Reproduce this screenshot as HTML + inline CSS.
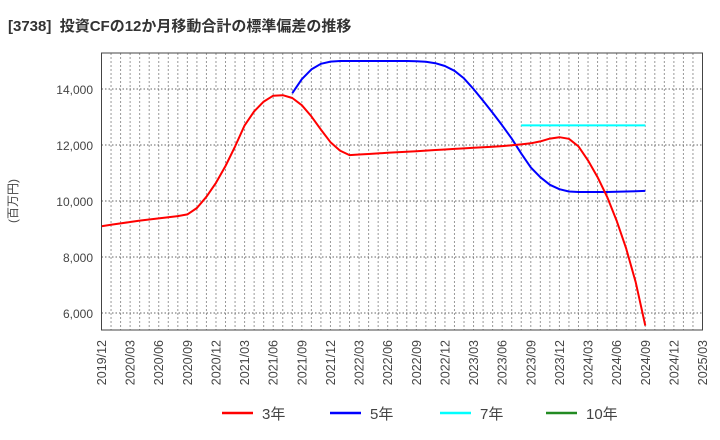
<!DOCTYPE html>
<html><head><meta charset="utf-8"><style>
body{margin:0;background:#fff;}
svg{display:block;font-family:"Liberation Sans","Noto Sans CJK JP",sans-serif;}
</style></head><body>
<svg id="c" width="720" height="440">
<text x="8" y="31" font-size="15" font-weight="bold" fill="#333" xml:space="preserve">[3738]  投資CFの12か月移動合計の標準偏差の推移</text>
<g id="grid"></g>
<g id="series"></g>
<rect x="101.5" y="53" width="601" height="277" fill="none" stroke="#444" stroke-width="1"/>
<text transform="translate(17,201) rotate(-90)" text-anchor="middle" font-size="12" fill="#444">(百万円)</text>
<g id="legend"></g>
</svg>
<script>
const yTicks=[6000,8000,10000,12000,14000];
const xLabels=["2019/12","2020/03","2020/06","2020/09","2020/12","2021/03","2021/06","2021/09","2021/12","2022/03","2022/06","2022/09","2022/12","2023/03","2023/06","2023/09","2023/12","2024/03","2024/06","2024/09","2024/12","2025/03"];
const red=[9100,9150,9200,9250,9300,9340,9380,9420,9460,9520,9750,10150,10650,11250,11950,12700,13200,13550,13760,13780,13680,13420,13020,12550,12100,11800,11640,11660,11680,11700,11720,11740,11760,11780,11800,11820,11840,11860,11880,11900,11920,11940,11960,11990,12020,12060,12130,12230,12280,12220,11950,11450,10850,10150,9300,8300,7100,5550];
const blueStart=20;
const blue=[13850,14350,14700,14900,14980,15000,15000,15000,15000,15000,15000,15000,15000,14990,14970,14920,14820,14650,14380,14000,13580,13150,12700,12230,11700,11200,10850,10580,10420,10340,10320,10320,10320,10320,10330,10340,10350,10360];
const cyanStart=44;
const cyan=[12700,12700,12700,12700,12700,12700,12700,12700,12700,12700,12700,12700,12700,12700];
const ns="http://www.w3.org/2000/svg";
const X0=101.5,PX=601/63;
const xs=i=>X0+PX*i;
const ys=v=>313-(v-6000)*0.028;
function mk(t,p,a){const e=document.createElementNS(ns,t);for(const k in a)e.setAttribute(k,a[k]);p.appendChild(e);return e;}
const g=document.getElementById('grid');
for(let i=1;i<63;i++){const l=mk('line',g,{x1:xs(i),x2:xs(i),y1:53,y2:330,stroke:'#999','stroke-dasharray':'2,2','stroke-width':1});

}
yTicks.forEach(v=>{const l=mk('line',g,{x1:101.5,x2:702.5,y1:ys(v),y2:ys(v),stroke:'#666','stroke-dasharray':'1.5,2','stroke-width':1});


const t=mk('text',g,{x:93,y:ys(v)+5,'text-anchor':'end','font-size':12,fill:'#444'});t.textContent=v.toLocaleString('en-US');

});
xLabels.forEach((s,i)=>{const x=xs(i*3);const t=mk('text',g,{transform:`translate(${x+4.5},340) rotate(-90)`,'text-anchor':'end','font-size':12.5,fill:'#444'});t.textContent=s;

});
const sg=document.getElementById('series');
function line(arr,start,col,name){const pts=arr.map((v,i)=>xs(start+i).toFixed(1)+','+ys(v).toFixed(1)).join(' ');
const p=mk('polyline',sg,{points:pts,fill:'none',stroke:col,'stroke-width':2,'stroke-linejoin':'round'});

}
line(cyan,cyanStart,'#00ffff','series-7y');
line(blue,blueStart,'#0000ff','series-5y');
line(red,0,'#ff0000','series-3y');
const lg=document.getElementById('legend');
[["3年","#ff0000",222],["5年","#0000ff",330],["7年","#00ffff",440],["10年","#228b22",546]].forEach(([n,c,x])=>{
const e=mk('g',lg,{});


mk('line',e,{x1:x,x2:x+31,y1:413,y2:413,stroke:c,'stroke-width':2.5});
const t=mk('text',e,{x:x+40,y:419,'font-size':15,fill:'#444'});t.textContent=n;});
</script>
</body></html>
